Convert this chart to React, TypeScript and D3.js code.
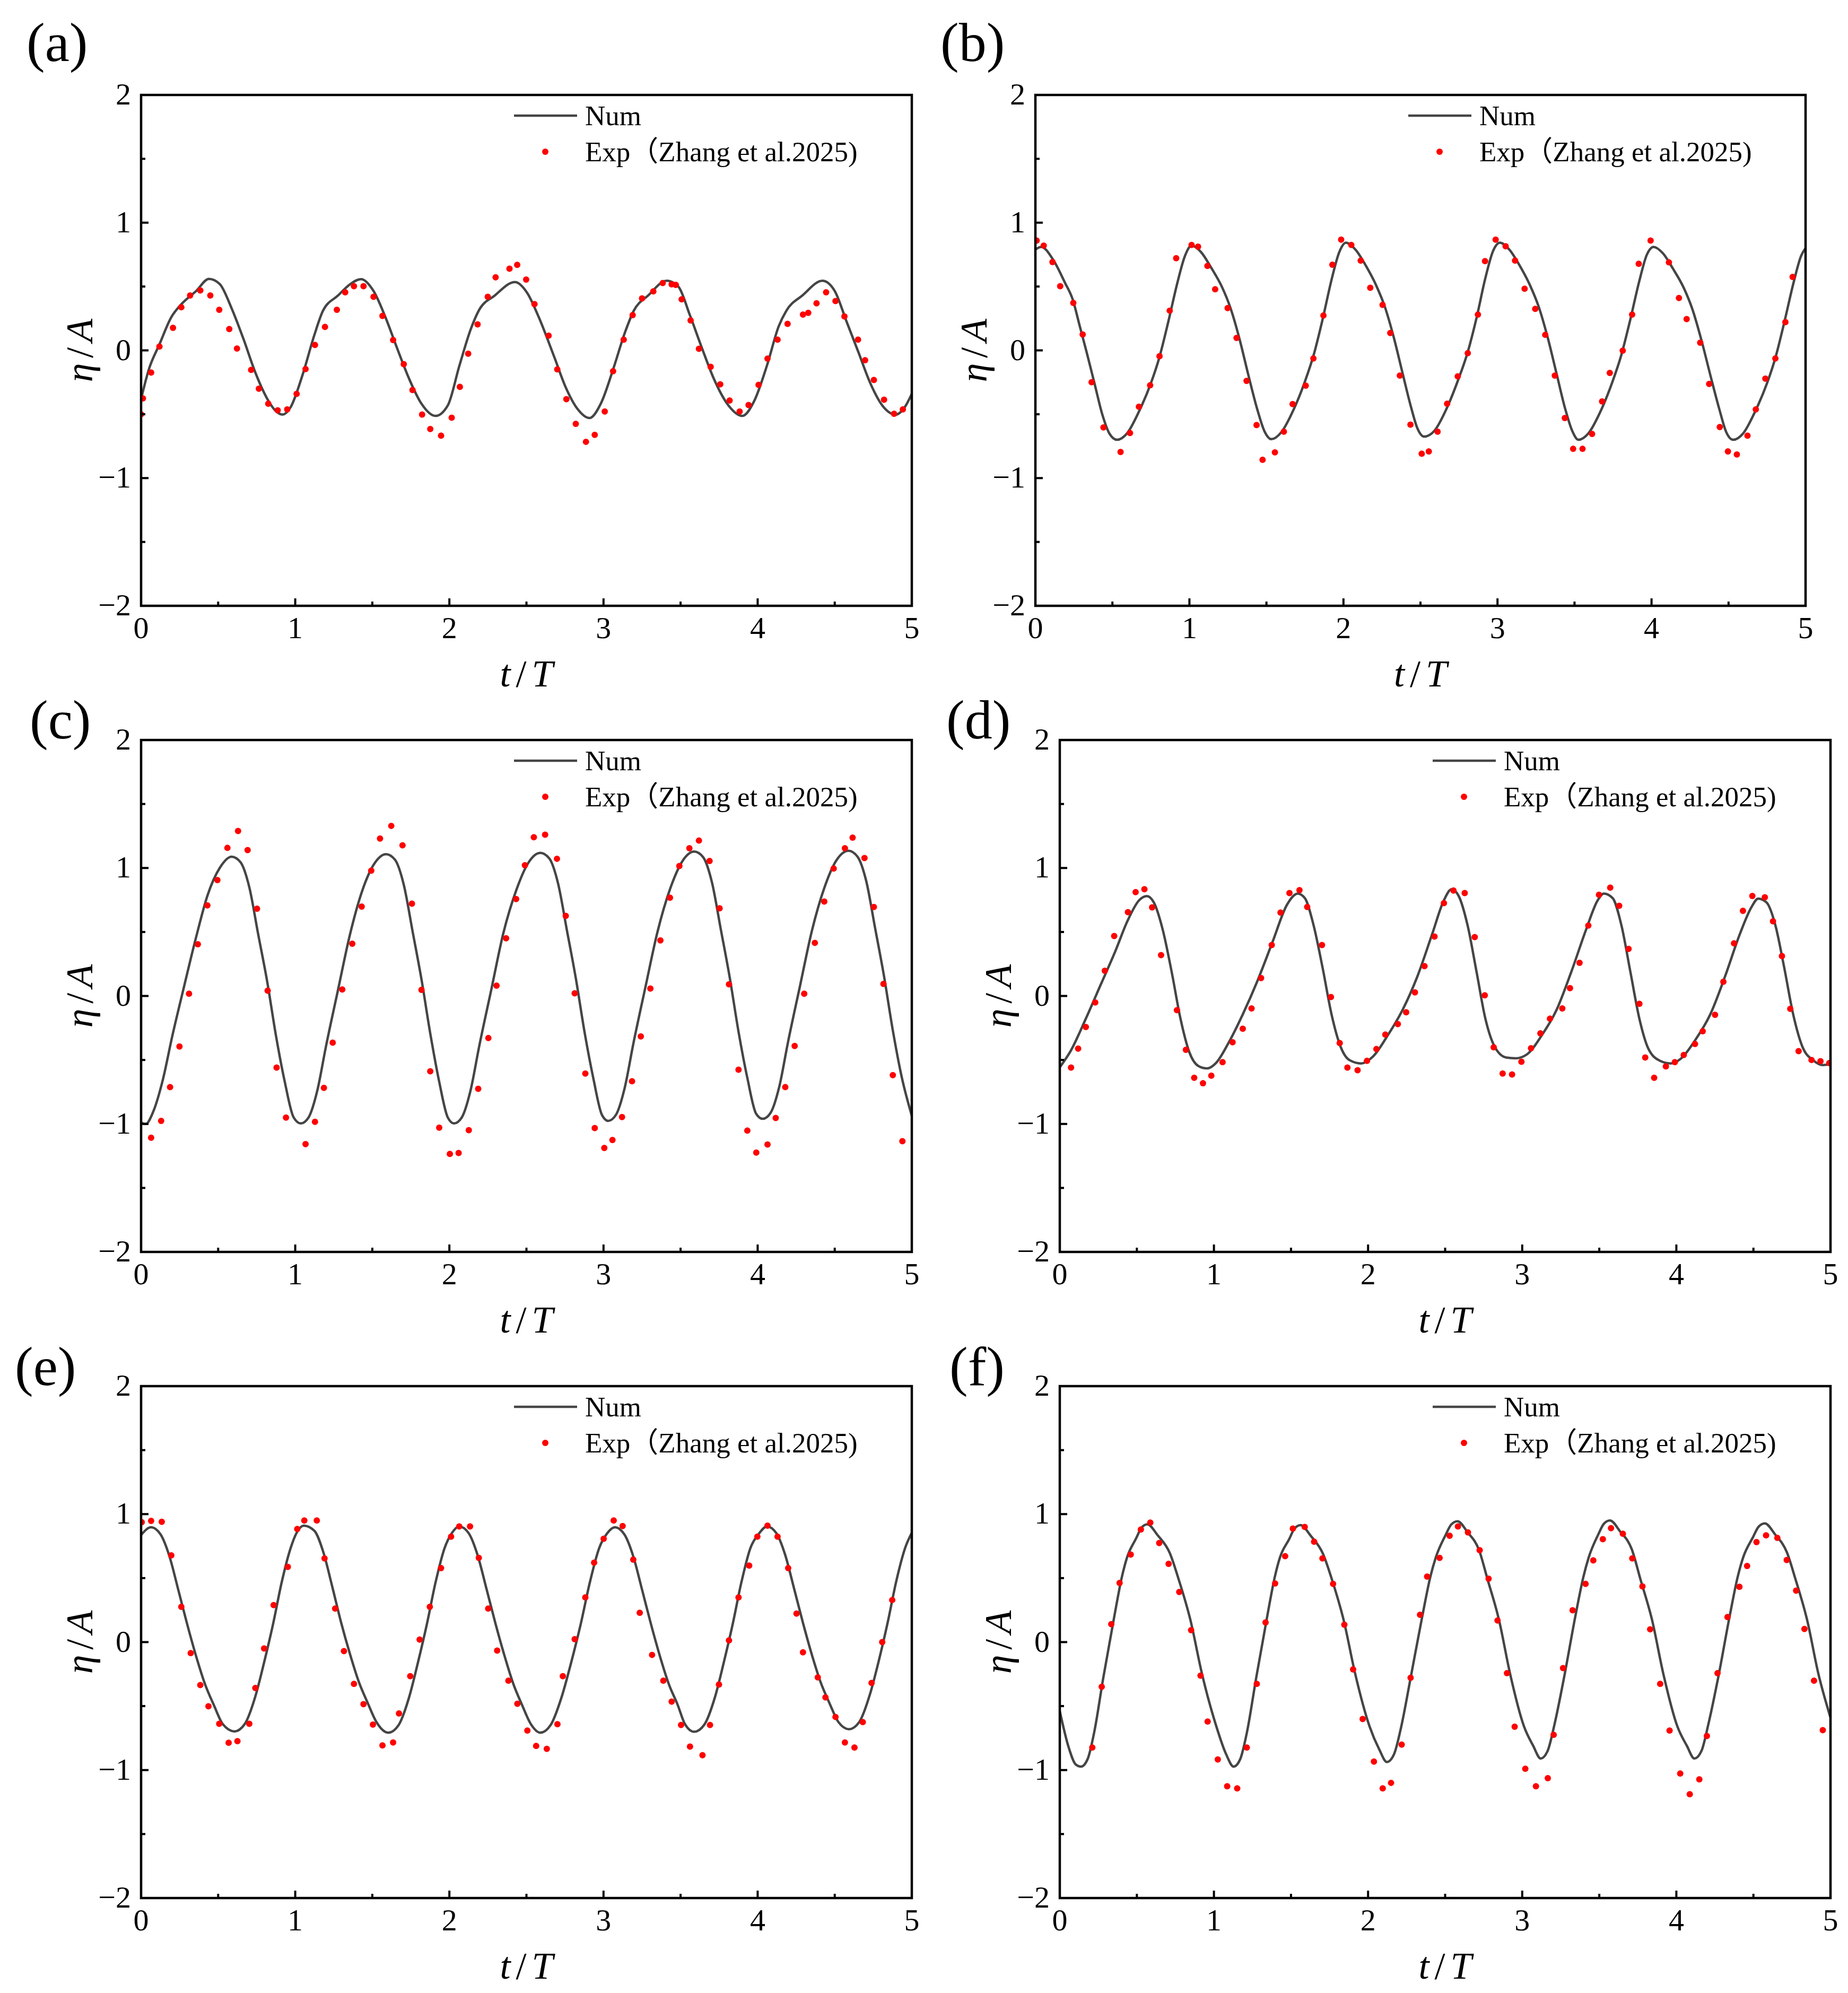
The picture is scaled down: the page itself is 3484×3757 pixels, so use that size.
import React from 'react';
import * as d3 from 'd3';

type P = [number, number];

const T_MAJOR = [0, 1, 2, 3, 4, 5];
const T_MINOR = [0.5, 1.5, 2.5, 3.5, 4.5];
const ETA_MAJOR = [-2, -1, 0, 1, 2];
const ETA_MINOR = [-1.5, -0.5, 0.5, 1.5];
const PANEL_LABELS = ['(a)', '(b)', '(c)', '(d)', '(e)', '(f)'];
const LEGEND_NUM = 'Num';
const LEGEND_EXP = 'Exp（Zhang et al.2025)';

const numA: P[] = [[0,-0.38],[0.05,-0.15],[0.12,0.05],[0.196,0.26],[0.26,0.36],[0.357,0.465],[0.44,0.56],[0.51,0.52],[0.587,0.33],[0.664,0.09],[0.74,-0.17],[0.817,-0.376],[0.87,-0.47],[0.917,-0.503],[0.97,-0.445],[1.048,-0.19],[1.124,0.12],[1.18,0.31],[1.278,0.43],[1.355,0.517],[1.427,0.558],[1.508,0.465],[1.585,0.26],[1.66,0.02],[1.738,-0.22],[1.815,-0.41],[1.91,-0.513],[1.99,-0.43],[2.065,-0.12],[2.14,0.17],[2.19,0.31],[2.295,0.43],[2.425,0.535],[2.506,0.448],[2.58,0.26],[2.68,-0.05],[2.755,-0.29],[2.832,-0.46],[2.909,-0.53],[2.985,-0.41],[3.062,-0.15],[3.139,0.14],[3.196,0.31],[3.29,0.43],[3.41,0.545],[3.485,0.5],[3.56,0.277],[3.638,0.02],[3.715,-0.22],[3.81,-0.43],[3.9,-0.513],[3.98,-0.39],[4.06,-0.12],[4.137,0.19],[4.186,0.31],[4.29,0.43],[4.42,0.545],[4.5,0.465],[4.577,0.225],[4.654,-0.015],[4.73,-0.255],[4.808,-0.43],[4.896,-0.503],[4.954,-0.445],[5.0,-0.34]];
const expA: P[] = [[0.0,-0.5],[0.012,-0.376],[0.065,-0.173],[0.119,0.03],[0.207,0.177],[0.261,0.338],[0.318,0.43],[0.384,0.469],[0.449,0.43],[0.507,0.318],[0.572,0.167],[0.622,0.015],[0.714,-0.153],[0.764,-0.3],[0.825,-0.417],[0.886,-0.469],[0.948,-0.462],[1.009,-0.341],[1.067,-0.146],[1.128,0.043],[1.193,0.184],[1.27,0.318],[1.324,0.455],[1.381,0.503],[1.443,0.503],[1.508,0.42],[1.566,0.27],[1.635,0.081],[1.704,-0.108],[1.761,-0.31],[1.823,-0.503],[1.876,-0.616],[1.946,-0.668],[2.015,-0.527],[2.068,-0.286],[2.122,-0.026],[2.183,0.204],[2.249,0.42],[2.3,0.572],[2.39,0.64],[2.44,0.67],[2.498,0.555],[2.552,0.362],[2.644,0.115],[2.7,-0.149],[2.759,-0.382],[2.82,-0.575],[2.886,-0.716],[2.943,-0.661],[3.008,-0.479],[3.062,-0.163],[3.131,0.084],[3.189,0.276],[3.25,0.407],[3.323,0.462],[3.384,0.527],[3.442,0.517],[3.469,0.513],[3.507,0.4],[3.565,0.235],[3.619,0.012],[3.695,-0.129],[3.757,-0.266],[3.818,-0.393],[3.883,-0.479],[3.941,-0.428],[4.006,-0.27],[4.064,-0.064],[4.129,0.084],[4.194,0.208],[4.294,0.28],[4.328,0.294],[4.382,0.369],[4.444,0.455],[4.505,0.386],[4.563,0.266],[4.651,0.084],[4.697,-0.077],[4.754,-0.232],[4.82,-0.386],[4.885,-0.496],[4.942,-0.462]];

const numB: P[] = [[0,0.79],[0.038,0.81],[0.115,0.71],[0.192,0.53],[0.242,0.40],[0.288,0.19],[0.334,-0.02],[0.384,-0.26],[0.434,-0.50],[0.48,-0.65],[0.53,-0.70],[0.595,-0.65],[0.672,-0.48],[0.749,-0.26],[0.806,-0.05],[0.864,0.23],[0.922,0.53],[0.971,0.74],[1.014,0.82],[1.075,0.77],[1.14,0.65],[1.21,0.50],[1.267,0.33],[1.325,0.09],[1.382,-0.19],[1.44,-0.46],[1.486,-0.63],[1.532,-0.695],[1.597,-0.64],[1.674,-0.47],[1.751,-0.24],[1.808,-0.03],[1.866,0.25],[1.924,0.56],[1.973,0.77],[2.016,0.843],[2.077,0.79],[2.142,0.67],[2.212,0.51],[2.269,0.34],[2.327,0.10],[2.384,-0.18],[2.44,-0.45],[2.48,-0.61],[2.523,-0.675],[2.59,-0.63],[2.668,-0.46],[2.745,-0.23],[2.805,-0.02],[2.865,0.26],[2.922,0.57],[2.972,0.78],[3.015,0.843],[3.076,0.79],[3.141,0.67],[3.211,0.51],[3.268,0.34],[3.326,0.10],[3.383,-0.18],[3.44,-0.46],[3.485,-0.63],[3.525,-0.70],[3.59,-0.65],[3.668,-0.48],[3.745,-0.25],[3.803,-0.04],[3.862,0.24],[3.92,0.54],[3.97,0.75],[4.013,0.81],[4.074,0.76],[4.139,0.64],[4.209,0.49],[4.266,0.32],[4.324,0.08],[4.381,-0.19],[4.44,-0.46],[4.485,-0.64],[4.53,-0.70],[4.595,-0.65],[4.672,-0.48],[4.749,-0.26],[4.806,-0.05],[4.864,0.23],[4.922,0.53],[4.971,0.74],[5.0,0.80]];
const expB: P[] = [[0.008,0.86],[0.054,0.82],[0.111,0.692],[0.161,0.503],[0.246,0.372],[0.307,0.125],[0.365,-0.249],[0.442,-0.603],[0.553,-0.795],[0.614,-0.647],[0.672,-0.441],[0.745,-0.273],[0.806,-0.046],[0.872,0.311],[0.914,0.722],[1.014,0.826],[1.056,0.812],[1.117,0.661],[1.167,0.479],[1.248,0.331],[1.306,0.098],[1.371,-0.239],[1.436,-0.585],[1.475,-0.857],[1.555,-0.799],[1.613,-0.637],[1.67,-0.421],[1.755,-0.276],[1.805,-0.063],[1.87,0.273],[1.928,0.671],[1.985,0.867],[2.051,0.826],[2.112,0.703],[2.174,0.49],[2.254,0.356],[2.304,0.136],[2.366,-0.197],[2.435,-0.582],[2.508,-0.809],[2.554,-0.791],[2.611,-0.637],[2.673,-0.417],[2.742,-0.204],[2.807,-0.022],[2.873,0.28],[2.919,0.699],[2.988,0.867],[3.053,0.815],[3.114,0.703],[3.176,0.483],[3.245,0.325],[3.31,0.122],[3.372,-0.197],[3.437,-0.53],[3.491,-0.771],[3.552,-0.771],[3.614,-0.654],[3.679,-0.4],[3.729,-0.177],[3.813,-0.002],[3.874,0.28],[3.917,0.678],[3.994,0.86],[4.113,0.689],[4.178,0.41],[4.228,0.245],[4.316,0.06],[4.374,-0.263],[4.443,-0.6],[4.496,-0.791],[4.554,-0.815],[4.623,-0.668],[4.677,-0.462],[4.739,-0.221],[4.804,-0.063],[4.869,0.221],[4.916,0.575]];

const numC: P[] = [[0,-0.99],[0.03,-1.0],[0.08,-0.9],[0.14,-0.66],[0.203,-0.31],[0.28,0.08],[0.357,0.46],[0.432,0.79],[0.51,1.0],[0.587,1.088],[0.645,1.045],[0.702,0.85],[0.76,0.48],[0.817,0.12],[0.875,-0.31],[0.932,-0.67],[0.99,-0.95],[1.036,-0.996],[1.086,-0.95],[1.143,-0.74],[1.2,-0.39],[1.278,0.05],[1.355,0.48],[1.434,0.82],[1.511,1.03],[1.589,1.108],[1.647,1.065],[1.704,0.87],[1.762,0.5],[1.819,0.13],[1.877,-0.30],[1.934,-0.67],[1.99,-0.95],[2.03,-0.996],[2.08,-0.95],[2.137,-0.74],[2.194,-0.39],[2.272,0.05],[2.35,0.49],[2.435,0.83],[2.512,1.04],[2.59,1.118],[2.648,1.075],[2.705,0.88],[2.763,0.51],[2.82,0.14],[2.878,-0.29],[2.935,-0.65],[2.99,-0.93],[3.03,-0.976],[3.08,-0.93],[3.137,-0.72],[3.194,-0.37],[3.272,0.07],[3.35,0.5],[3.433,0.84],[3.51,1.05],[3.588,1.128],[3.646,1.085],[3.703,0.89],[3.761,0.52],[3.818,0.15],[3.876,-0.28],[3.933,-0.64],[3.99,-0.92],[4.033,-0.96],[4.083,-0.915],[4.14,-0.71],[4.197,-0.36],[4.275,0.08],[4.352,0.51],[4.434,0.85],[4.511,1.06],[4.589,1.135],[4.647,1.09],[4.704,0.9],[4.762,0.53],[4.819,0.16],[4.877,-0.27],[4.934,-0.63],[5.0,-0.936]];
const expC: P[] = [[0.065,-1.108],[0.13,-0.976],[0.188,-0.712],[0.249,-0.395],[0.311,0.018],[0.368,0.404],[0.43,0.708],[0.495,0.906],[0.56,1.157],[0.629,1.289],[0.691,1.14],[0.752,0.682],[0.821,0.041],[0.879,-0.56],[0.94,-0.95],[1.067,-1.158],[1.128,-0.983],[1.186,-0.718],[1.243,-0.365],[1.305,0.051],[1.37,0.408],[1.431,0.698],[1.493,0.979],[1.55,1.23],[1.623,1.329],[1.696,1.177],[1.757,0.721],[1.819,0.048],[1.876,-0.589],[1.934,-1.029],[2.003,-1.234],[2.06,-1.227],[2.126,-1.049],[2.187,-0.725],[2.253,-0.329],[2.306,0.081],[2.368,0.451],[2.433,0.758],[2.49,1.022],[2.548,1.24],[2.621,1.26],[2.698,1.072],[2.755,0.626],[2.813,0.021],[2.882,-0.606],[2.943,-1.032],[3.005,-1.188],[3.058,-1.125],[3.12,-0.946],[3.185,-0.666],[3.242,-0.316],[3.304,0.058],[3.369,0.434],[3.431,0.768],[3.492,1.016],[3.557,1.154],[3.619,1.214],[3.688,1.055],[3.753,0.685],[3.814,0.091],[3.876,-0.576],[3.933,-1.052],[3.991,-1.224],[4.064,-1.161],[4.117,-0.953],[4.179,-0.712],[4.24,-0.391],[4.302,0.018],[4.371,0.415],[4.432,0.738],[4.493,0.996],[4.566,1.154],[4.616,1.237],[4.693,1.078],[4.754,0.695],[4.816,0.094],[4.877,-0.619],[4.939,-1.135]];

const numD: P[] = [[0,-0.557],[0.073,-0.424],[0.169,-0.177],[0.265,0.087],[0.361,0.352],[0.438,0.583],[0.515,0.748],[0.565,0.78],[0.61,0.731],[0.668,0.517],[0.726,0.187],[0.783,-0.177],[0.841,-0.441],[0.899,-0.547],[0.956,-0.566],[1.014,-0.523],[1.091,-0.375],[1.187,-0.144],[1.283,0.12],[1.379,0.418],[1.475,0.715],[1.544,0.8],[1.59,0.764],[1.647,0.55],[1.705,0.22],[1.763,-0.144],[1.82,-0.391],[1.878,-0.5],[1.955,-0.527],[2.031,-0.474],[2.127,-0.309],[2.223,-0.111],[2.32,0.153],[2.416,0.484],[2.492,0.748],[2.542,0.834],[2.588,0.781],[2.646,0.55],[2.704,0.187],[2.761,-0.177],[2.819,-0.391],[2.896,-0.481],[2.957,-0.487],[3.03,-0.457],[3.126,-0.309],[3.222,-0.111],[3.318,0.187],[3.414,0.517],[3.49,0.748],[3.529,0.8],[3.587,0.764],[3.644,0.55],[3.702,0.187],[3.76,-0.177],[3.817,-0.408],[3.894,-0.507],[3.963,-0.527],[4.028,-0.491],[4.124,-0.342],[4.22,-0.144],[4.316,0.153],[4.412,0.484],[4.489,0.698],[4.531,0.761],[4.585,0.731],[4.643,0.55],[4.7,0.22],[4.758,-0.144],[4.816,-0.391],[4.892,-0.507],[4.95,-0.54],[5.0,-0.534]];
const expD: P[] = [[0.073,-0.56],[0.119,-0.411],[0.169,-0.242],[0.23,-0.051],[0.292,0.197],[0.353,0.468],[0.442,0.655],[0.492,0.811],[0.549,0.834],[0.599,0.692],[0.657,0.319],[0.76,-0.111],[0.818,-0.421],[0.872,-0.639],[0.929,-0.682],[0.983,-0.623],[1.056,-0.517],[1.121,-0.362],[1.187,-0.256],[1.244,-0.097],[1.306,0.14],[1.375,0.398],[1.432,0.652],[1.49,0.804],[1.555,0.827],[1.605,0.695],[1.701,0.398],[1.759,-0.008],[1.816,-0.368],[1.866,-0.56],[1.932,-0.58],[1.993,-0.507],[2.054,-0.415],[2.112,-0.302],[2.193,-0.22],[2.247,-0.127],[2.304,0.028],[2.366,0.233],[2.431,0.464],[2.492,0.725],[2.554,0.824],[2.627,0.804],[2.692,0.46],[2.757,0.005],[2.815,-0.401],[2.873,-0.606],[2.934,-0.613],[2.995,-0.514],[3.057,-0.408],[3.118,-0.292],[3.18,-0.177],[3.26,-0.097],[3.31,0.061],[3.372,0.259],[3.429,0.55],[3.498,0.791],[3.571,0.847],[3.629,0.705],[3.69,0.368],[3.76,-0.061],[3.798,-0.481],[3.856,-0.639],[3.932,-0.55],[3.99,-0.517],[4.048,-0.461],[4.121,-0.375],[4.171,-0.276],[4.251,-0.147],[4.305,0.111],[4.374,0.411],[4.432,0.665],[4.493,0.781],[4.574,0.771],[4.627,0.583],[4.685,0.312],[4.739,-0.101],[4.793,-0.431],[4.877,-0.5],[4.935,-0.51],[4.992,-0.524]];

const numE: P[] = [[0,0.837],[0.065,0.897],[0.127,0.84],[0.184,0.67],[0.242,0.405],[0.299,0.14],[0.357,-0.11],[0.414,-0.326],[0.472,-0.492],[0.53,-0.641],[0.606,-0.698],[0.672,-0.641],[0.741,-0.425],[0.798,-0.159],[0.856,0.14],[0.913,0.472],[0.971,0.738],[1.009,0.854],[1.055,0.91],[1.124,0.87],[1.182,0.704],[1.239,0.439],[1.297,0.156],[1.355,-0.093],[1.412,-0.309],[1.47,-0.475],[1.527,-0.625],[1.604,-0.708],[1.67,-0.65],[1.739,-0.43],[1.796,-0.16],[1.854,0.14],[1.911,0.47],[1.969,0.735],[2.015,0.85],[2.064,0.904],[2.126,0.85],[2.183,0.68],[2.241,0.415],[2.298,0.15],[2.356,-0.10],[2.413,-0.32],[2.471,-0.49],[2.528,-0.64],[2.59,-0.708],[2.656,-0.65],[2.728,-0.43],[2.79,-0.16],[2.852,0.14],[2.912,0.47],[2.972,0.735],[3.024,0.85],[3.074,0.897],[3.136,0.84],[3.193,0.67],[3.251,0.405],[3.308,0.14],[3.366,-0.11],[3.423,-0.326],[3.481,-0.49],[3.528,-0.64],[3.588,-0.701],[3.654,-0.645],[3.723,-0.43],[3.78,-0.16],[3.838,0.14],[3.895,0.47],[3.953,0.735],[4.01,0.85],[4.06,0.904],[4.122,0.85],[4.179,0.68],[4.237,0.415],[4.294,0.15],[4.352,-0.10],[4.409,-0.315],[4.467,-0.48],[4.524,-0.625],[4.593,-0.681],[4.659,-0.625],[4.728,-0.41],[4.785,-0.15],[4.843,0.15],[4.9,0.48],[4.958,0.74],[5.0,0.854]];
const expE: P[] = [[0.004,0.937],[0.065,0.947],[0.134,0.94],[0.196,0.678],[0.261,0.276],[0.322,-0.086],[0.384,-0.336],[0.437,-0.502],[0.507,-0.638],[0.568,-0.787],[0.625,-0.774],[0.702,-0.638],[0.741,-0.359],[0.798,-0.05],[0.86,0.289],[0.952,0.588],[1.013,0.884],[1.059,0.95],[1.14,0.95],[1.19,0.654],[1.259,0.262],[1.316,-0.07],[1.381,-0.326],[1.443,-0.485],[1.504,-0.645],[1.566,-0.807],[1.635,-0.784],[1.673,-0.558],[1.746,-0.266],[1.807,0.02],[1.873,0.276],[1.946,0.578],[2.011,0.824],[2.064,0.904],[2.134,0.904],[2.191,0.658],[2.252,0.262],[2.31,-0.066],[2.383,-0.302],[2.441,-0.482],[2.506,-0.691],[2.563,-0.811],[2.632,-0.834],[2.701,-0.641],[2.736,-0.266],[2.813,0.023],[2.882,0.349],[2.939,0.621],[3.001,0.807],[3.066,0.95],[3.124,0.907],[3.193,0.645],[3.235,0.229],[3.315,-0.1],[3.388,-0.302],[3.442,-0.465],[3.503,-0.648],[3.561,-0.817],[3.642,-0.884],[3.691,-0.648],[3.749,-0.332],[3.814,0.013],[3.876,0.349],[3.945,0.598],[3.998,0.824],[4.064,0.91],[4.129,0.824],[4.198,0.578],[4.252,0.223],[4.294,-0.08],[4.39,-0.276],[4.44,-0.432],[4.505,-0.585],[4.566,-0.784],[4.628,-0.824],[4.682,-0.625],[4.739,-0.319],[4.808,0.0],[4.873,0.329]];

const numF: P[] = [[0,-0.54],[0.058,-0.824],[0.104,-0.957],[0.138,-0.973],[0.181,-0.913],[0.224,-0.70],[0.282,-0.28],[0.355,0.21],[0.403,0.51],[0.436,0.66],[0.495,0.81],[0.531,0.895],[0.568,0.92],[0.635,0.835],[0.714,0.695],[0.77,0.495],[0.848,0.17],[0.921,-0.24],[1.016,-0.66],[1.078,-0.873],[1.128,-0.973],[1.171,-0.913],[1.215,-0.70],[1.274,-0.28],[1.347,0.21],[1.395,0.51],[1.428,0.66],[1.488,0.804],[1.524,0.889],[1.562,0.914],[1.629,0.829],[1.708,0.689],[1.764,0.495],[1.842,0.17],[1.915,-0.24],[2.01,-0.66],[2.072,-0.837],[2.122,-0.937],[2.168,-0.877],[2.214,-0.667],[2.276,-0.28],[2.353,0.21],[2.404,0.51],[2.439,0.66],[2.502,0.834],[2.54,0.919],[2.58,0.944],[2.645,0.859],[2.72,0.719],[2.774,0.495],[2.85,0.17],[2.92,-0.24],[3.012,-0.66],[3.071,-0.81],[3.12,-0.91],[3.165,-0.85],[3.21,-0.64],[3.271,-0.28],[3.346,0.21],[3.397,0.51],[3.431,0.66],[3.493,0.84],[3.53,0.925],[3.569,0.95],[3.635,0.865],[3.711,0.725],[3.766,0.495],[3.843,0.17],[3.914,-0.24],[4.007,-0.66],[4.068,-0.81],[4.117,-0.91],[4.163,-0.85],[4.208,-0.64],[4.271,-0.28],[4.347,0.21],[4.398,0.51],[4.433,0.66],[4.496,0.817],[4.534,0.902],[4.574,0.927],[4.64,0.842],[4.717,0.702],[4.772,0.495],[4.849,0.17],[4.92,-0.24],[5.0,-0.59]];
const expF: P[] = [[0.211,-0.824],[0.272,-0.349],[0.334,0.14],[0.388,0.462],[0.46,0.684],[0.526,0.88],[0.587,0.934],[0.645,0.774],[0.706,0.611],[0.775,0.392],[0.852,0.093],[0.913,-0.262],[0.959,-0.621],[1.025,-0.917],[1.086,-1.126],[1.151,-1.143],[1.213,-0.824],[1.278,-0.326],[1.335,0.153],[1.397,0.458],[1.462,0.671],[1.512,0.887],[1.589,0.9],[1.65,0.784],[1.704,0.654],[1.773,0.455],[1.846,0.136],[1.903,-0.213],[1.965,-0.601],[2.038,-0.934],[2.095,-1.143],[2.149,-1.1],[2.218,-0.801],[2.276,-0.279],[2.337,0.213],[2.383,0.512],[2.464,0.658],[2.529,0.831],[2.583,0.904],[2.648,0.857],[2.724,0.718],[2.782,0.495],[2.84,0.169],[2.901,-0.243],[2.951,-0.661],[3.02,-0.99],[3.089,-1.126],[3.166,-1.063],[3.204,-0.724],[3.265,-0.203],[3.327,0.249],[3.411,0.455],[3.461,0.638],[3.523,0.804],[3.576,0.89],[3.653,0.847],[3.714,0.654],[3.78,0.435],[3.83,0.1],[3.895,-0.326],[3.956,-0.691],[4.025,-1.027],[4.087,-1.189],[4.149,-1.073],[4.198,-0.734],[4.267,-0.243],[4.332,0.196],[4.409,0.432],[4.459,0.595],[4.52,0.781],[4.582,0.834],[4.655,0.814],[4.716,0.641],[4.777,0.402],[4.831,0.103],[4.893,-0.302],[4.95,-0.688]];

const NUM_SERIES = [numA, numB, numC, numD, numE, numF];
const EXP_SERIES = [expA, expB, expC, expD, expE, expF];

// layout (pixels)
const W = 3484;
const H = 3757;
const FRAMES = [
  { x0: 266, x1: 1719, y0: 179, y1: 1142, lx: 50, ly: 115 },
  { x0: 1952, x1: 3404, y0: 179, y1: 1142, lx: 1773, ly: 115 },
  { x0: 266, x1: 1719, y0: 1395, y1: 2360, lx: 56, ly: 1392 },
  { x0: 1998, x1: 3451, y0: 1395, y1: 2360, lx: 1784, ly: 1392 },
  { x0: 266, x1: 1719, y0: 2613, y1: 3578, lx: 28, ly: 2611 },
  { x0: 1998, x1: 3451, y0: 2613, y1: 3578, lx: 1790, ly: 2611 },
];

const SERIF = "'Liberation Serif', 'Times New Roman', 'Noto Sans CJK SC', serif";
const LINE_COLOR = '#454545';
const DOT_COLOR = '#ff0000';
const fmt = (v: number) => (v < 0 ? '\u2212' + Math.abs(v) : String(v));

function Panel({ idx }: { idx: number }) {
  const f = FRAMES[idx];
  const x = d3.scaleLinear().domain([0, 5]).range([f.x0, f.x1]);
  const y = d3.scaleLinear().domain([-2, 2]).range([f.y1, f.y0]);
  const line = d3
    .line<P>()
    .x((d) => x(d[0]))
    .y((d) => y(d[1]))
    .curve(d3.curveMonotoneX);
  const clipId = `clip-${idx}`;
  const cy = (f.y0 + f.y1) / 2;
  const cx = (f.x0 + f.x1) / 2;
  const major = 14;
  const minor = 8;
  return (
    <g>
      <defs>
        <clipPath id={clipId}>
          <rect x={f.x0} y={f.y0} width={f.x1 - f.x0} height={f.y1 - f.y0} />
        </clipPath>
      </defs>
      <text x={f.lx} y={f.ly} fontFamily={SERIF} fontSize={104} fill="#000">
        {PANEL_LABELS[idx]}
      </text>
      <g clipPath={`url(#${clipId})`}>
        <path d={line(NUM_SERIES[idx]) || ''} fill="none" stroke={LINE_COLOR} strokeWidth={4.5} strokeLinejoin="round" />
        {EXP_SERIES[idx].map((d, i) => (
          <circle key={i} cx={x(d[0])} cy={y(d[1])} r={6} fill={DOT_COLOR} />
        ))}
      </g>
      {T_MAJOR.map((t) => (
        <line key={'tm' + t} x1={x(t)} x2={x(t)} y1={f.y1} y2={f.y1 - major} stroke="#000" strokeWidth={4} />
      ))}
      {T_MINOR.map((t) => (
        <line key={'tn' + t} x1={x(t)} x2={x(t)} y1={f.y1} y2={f.y1 - minor} stroke="#000" strokeWidth={4} />
      ))}
      {ETA_MAJOR.map((v) => (
        <line key={'em' + v} x1={f.x0} x2={f.x0 + major} y1={y(v)} y2={y(v)} stroke="#000" strokeWidth={4} />
      ))}
      {ETA_MINOR.map((v) => (
        <line key={'en' + v} x1={f.x0} x2={f.x0 + minor} y1={y(v)} y2={y(v)} stroke="#000" strokeWidth={4} />
      ))}
      <rect x={f.x0} y={f.y0} width={f.x1 - f.x0} height={f.y1 - f.y0} fill="none" stroke="#000" strokeWidth={4.5} />
      {T_MAJOR.map((t) => (
        <text key={'tl' + t} x={x(t)} y={f.y1 + 61} textAnchor="middle" fontFamily={SERIF} fontSize={58} fill="#000">
          {fmt(t)}
        </text>
      ))}
      {ETA_MAJOR.map((v) => (
        <text key={'el' + v} x={f.x0 - 19} y={y(v) + 18} textAnchor="end" fontFamily={SERIF} fontSize={58} fill="#000">
          {fmt(v)}
        </text>
      ))}
      <text x={cx} y={f.y1 + 152} textAnchor="middle" fontFamily={SERIF} fontSize={72} fill="#000">
        <tspan fontStyle="italic">t</tspan>
        <tspan dx={10}>/</tspan>
        <tspan dx={10} fontStyle="italic">T</tspan>
      </text>
      <text
        transform={`translate(${f.x0 - 92},${cy}) rotate(-90)`}
        textAnchor="middle"
        fontFamily={SERIF}
        fontSize={72}
        fill="#000"
      >
        <tspan fontStyle="italic">η</tspan>
        <tspan dx={10}>/</tspan>
        <tspan dx={10} fontStyle="italic">A</tspan>
      </text>
      <line x1={f.x0 + 703} x2={f.x0 + 822} y1={f.y0 + 39} y2={f.y0 + 39} stroke={LINE_COLOR} strokeWidth={4.5} />
      <text x={f.x0 + 837} y={f.y0 + 57} fontFamily={SERIF} fontSize={53} fill="#000">
        {LEGEND_NUM}
      </text>
      <circle cx={f.x0 + 762} cy={f.y0 + 107} r={6} fill={DOT_COLOR} />
      <text x={f.x0 + 837} y={f.y0 + 125} fontFamily={SERIF} fontSize={53} fill="#000">
        {LEGEND_EXP}
      </text>
    </g>
  );
}

export default function App() {
  return (
    <svg
      width={W}
      height={H}
      viewBox={`0 0 ${W} ${H}`}
      style={{ position: 'absolute', left: 0, top: 0, display: 'block', background: '#fff' }}
    >
      <rect x={0} y={0} width={W} height={H} fill="#fff" />
      {FRAMES.map((_, i) => (
        <Panel key={i} idx={i} />
      ))}
    </svg>
  );
}
